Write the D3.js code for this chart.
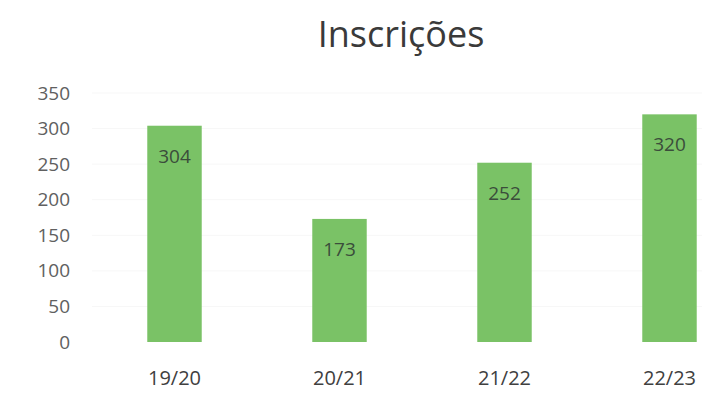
<!DOCTYPE html>
<html lang="pt">

<head>
    <meta charset="UTF-8">
    <title>Inscrições</title>
    <script src="https://d3js.org/d3.v7.min.js"></script>
    <style>
        body,
        html {
            margin: 0;
            padding: 0;
            overflow: hidden;
            background: #fff;
        }

        svg {
            display: block;
        }
    </style>
</head>

<body>
    <script>
        // Chart data
        const years = ["19/20", "20/21", "21/22", "22/23"];
        const enrolments = [304, 173, 252, 320];
        const yTicks = [0, 50, 100, 150, 200, 250, 300, 350];

        const width = 702;
        const height = 401;

        const svg = d3.select("body")
            .append("svg")
            .attr("width", width)
            .attr("height", height);

        const font = "'Open Sans', sans-serif";

        // x is wider than the window: the last category runs off the right edge
        const x = d3.scaleBand()
            .domain(years)
            .range([92, 752])
            .paddingInner(0.67)
            .paddingOuter(0.335);

        const y = d3.scaleLinear()
            .domain([0, 350])
            .range([342, 93]);

        // Title
        svg.append("text")
            .attr("x", 401)
            .attr("y", 47)
            .attr("text-anchor", "middle")
            .attr("font-family", font)
            .attr("font-size", 36)
            .attr("fill", "#3a3a3a")
            .text("Inscrições");

        // Faint gridlines
        svg.append("g")
            .selectAll("line")
            .data(yTicks.slice(1))
            .enter()
            .append("line")
            .attr("x1", 92)
            .attr("x2", 702)
            .attr("y1", d => y(d))
            .attr("y2", d => y(d))
            .attr("stroke", "#f7f7f7")
            .attr("stroke-width", 1);

        // Y axis labels only, no line
        const yAxis = svg.append("g")
            .attr("transform", "translate(70,0)")
            .call(d3.axisLeft(y).tickValues(yTicks).tickSize(0).tickPadding(0));
        yAxis.select(".domain").remove();
        yAxis.selectAll("text")
            .attr("font-family", font)
            .attr("font-size", 19)
            .attr("fill", "#606060");

        // Bars
        svg.selectAll("rect.bar")
            .data(enrolments)
            .enter()
            .append("rect")
            .attr("class", "bar")
            .attr("x", (d, i) => x(years[i]))
            .attr("y", d => y(d))
            .attr("width", x.bandwidth())
            .attr("height", d => y(0) - y(d))
            .attr("fill", "#7ac266");

        // Value labels inside the bars
        svg.selectAll("text.value")
            .data(enrolments)
            .enter()
            .append("text")
            .attr("class", "value")
            .attr("x", (d, i) => x(years[i]) + x.bandwidth() / 2)
            .attr("y", d => y(d) + 37)
            .attr("text-anchor", "middle")
            .attr("font-family", font)
            .attr("font-size", 19)
            .attr("fill", "#3b4d3b")
            .text(d => d);

        // Category labels
        const xAxis = svg.append("g")
            .attr("transform", "translate(0,342)")
            .call(d3.axisBottom(x).tickSize(0).tickPadding(29));
        xAxis.select(".domain").remove();
        xAxis.selectAll("text")
            .attr("font-family", font)
            .attr("font-size", 20)
            .attr("fill", "#404040");
    </script>
</body>

</html>
